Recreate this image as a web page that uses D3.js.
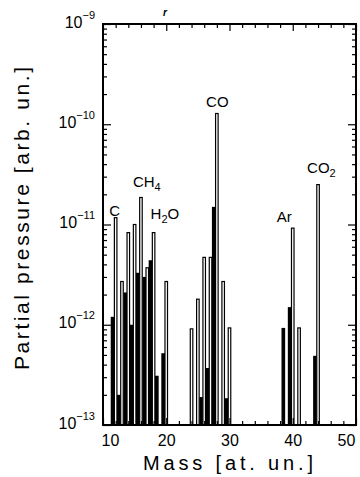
<!DOCTYPE html>
<html>
<head>
<meta charset="utf-8">
<script src="https://cdn.jsdelivr.net/npm/d3@7/dist/d3.min.js"></script>
<style>
  body { margin: 0; background: #fff; }
  svg { display: block; font-family: "Liberation Sans", Arial, sans-serif; }
</style>
</head>
<body>
<svg id="chart" width="360" height="477"></svg>
<script>
// mass numbers of the measured peaks
const masses = [12, 13, 14, 15, 16, 17, 18, 19, 20, 24, 25, 26, 27, 28, 29, 30, 39, 40, 41, 44];
// open bars (outline)
const openPressure = [1.17e-11, 2.7e-12, 8.3e-12, 1.0e-11, 1.86e-11, 3.7e-12, 8.3e-12, null, 2.7e-12,
                      9.1e-13, 1.8e-12, 4.7e-12, 4.7e-12, 1.28e-10, 2.7e-12, 9.3e-13,
                      null, 9.2e-12, 9.3e-13, 2.5e-11];
// filled bars (black)
const filledPressure = [1.2e-12, 2.0e-13, 2.1e-12, 1.0e-12, 3.3e-12, 3.0e-12, 4.4e-12, 3.1e-13, 5.2e-13,
                        null, null, 1.9e-13, 3.7e-13, 1.5e-11, null, 1.85e-13,
                        9.3e-13, 1.5e-12, null, 4.9e-13];

const decades = [1e-13, 1e-12, 1e-11, 1e-10, 1e-9];
const decadeExp = ["\u221213", "\u221212", "\u221211", "\u221210", "\u22129"];
const massTicks = [10, 20, 30, 40, 50];

const peakMass = [12, 16, 18, 28, 40, 44];
const peakName = ["C", "CH", "H", "CO", "Ar", "CO"];
const peakSub = ["", "4", "2", "", "", "2"];
const peakTail = ["", "", "O", "", "", ""];

const margin = { top: 24, right: 4, bottom: 52, left: 103 };
const W = 360, H = 477;
const width = W - margin.left - margin.right;
const height = H - margin.top - margin.bottom;

const svg = d3.select("#chart");

const x = d3.scaleLinear().domain([10, 50]).range([margin.left, margin.left + width]);
const y = d3.scaleLog().domain([1e-13, 1e-9]).range([margin.top + height, margin.top]);
const base = y(1e-13);

const rows = masses.map((m, i) => ({ m: m, open: openPressure[i], filled: filledPressure[i] }));

// filled bars (black), just left of each open bar
svg.append("g").selectAll("rect")
  .data(rows.filter(d => d.filled))
  .enter().append("rect")
  .attr("x", d => x(d.m - 0.78))
  .attr("y", d => y(d.filled))
  .attr("width", d => x(d.m - 0.2) - x(d.m - 0.78))
  .attr("height", d => base - y(d.filled))
  .attr("fill", "#000");

// open bars
svg.append("g").selectAll("rect")
  .data(rows.filter(d => d.open))
  .enter().append("rect")
  .attr("x", d => x(d.m - 0.2))
  .attr("y", d => y(d.open))
  .attr("width", d => x(d.m + 0.2) - x(d.m - 0.2))
  .attr("height", d => base - y(d.open))
  .attr("fill", "#fff")
  .attr("stroke", "#000")
  .attr("stroke-width", 1.2);

// axes, ticks pointing inward
function styleAxis(g) {
  g.select(".domain").remove();
  g.selectAll(".tick line").attr("stroke", "#000").attr("stroke-width", 1.2);
}

const minorX = x.ticks(20).filter(v => v % 10 !== 0);
const minorY = y.ticks().filter(v => decades.every(dv => Math.abs(dv - v) / dv > 1e-6));

svg.append("g").attr("transform", `translate(0,${base})`)
  .call(d3.axisBottom(x).tickValues(minorX).tickSize(-4).tickFormat(""))
  .call(styleAxis);
svg.append("g").attr("transform", `translate(0,${base})`)
  .call(d3.axisBottom(x).tickValues(massTicks).tickSize(-7).tickPadding(10).tickFormat(d3.format("d")))
  .call(styleAxis)
  .call(g => g.selectAll("text").attr("font-size", 16).attr("fill", "#000")
    .attr("font-family", "'Liberation Sans', Arial, sans-serif")
    .attr("dx", d => d === 10 ? 7 : d === 50 ? -10 : 0));

svg.append("g").attr("transform", `translate(0,${margin.top})`)
  .call(d3.axisTop(x).tickValues(minorX).tickSize(-4).tickFormat(""))
  .call(styleAxis);
svg.append("g").attr("transform", `translate(0,${margin.top})`)
  .call(d3.axisTop(x).tickValues(massTicks).tickSize(-7).tickFormat(""))
  .call(styleAxis);

svg.append("g").attr("transform", `translate(${margin.left},0)`)
  .call(d3.axisLeft(y).tickValues(minorY).tickSize(-4).tickFormat(""))
  .call(styleAxis);
const gLeft = svg.append("g").attr("transform", `translate(${margin.left},0)`)
  .call(d3.axisLeft(y).tickValues(decades).tickSize(-8).tickFormat(""))
  .call(styleAxis);

svg.append("g").attr("transform", `translate(${margin.left + width},0)`)
  .call(d3.axisRight(y).tickValues(minorY).tickSize(-4).tickFormat(""))
  .call(styleAxis);
svg.append("g").attr("transform", `translate(${margin.left + width},0)`)
  .call(d3.axisRight(y).tickValues(decades).tickSize(-8).tickFormat(""))
  .call(styleAxis);

// 10^n labels
gLeft.selectAll(".tick text").remove();
gLeft.selectAll(".tick").each(function (d, i) {
  const t = d3.select(this).append("text")
    .attr("x", -8).attr("y", 3)
    .attr("text-anchor", "end")
    .attr("fill", "#000")
    .attr("font-size", 16);
  t.append("tspan").text("10");
  t.append("tspan").attr("dy", -9).attr("font-size", 11).text(decadeExp[i]);
});

// frame
svg.append("rect")
  .attr("x", margin.left).attr("y", margin.top)
  .attr("width", width).attr("height", height)
  .attr("fill", "none").attr("stroke", "#000").attr("stroke-width", 2);

// peak labels
const labelOffset = [[-1, -2, "middle"], [-8, -10, "start"], [-3, -14, "start"],
                     [0.5, -7, "middle"], [-1, -6, "end"], [-11, -12, "start"]];
peakMass.forEach((m, i) => {
  const v = openPressure[masses.indexOf(m)];
  const t = svg.append("text")
    .attr("x", x(m) + labelOffset[i][0])
    .attr("y", y(v) + labelOffset[i][1])
    .attr("text-anchor", labelOffset[i][2])
    .attr("font-size", 15)
    .attr("fill", "#000");
  t.append("tspan").text(peakName[i]);
  if (peakSub[i]) t.append("tspan").attr("dy", 4).attr("font-size", 11).text(peakSub[i]);
  if (peakTail[i]) t.append("tspan").attr("dy", -4).attr("font-size", 15).text(peakTail[i]);
});

// stray mark above the frame
svg.append("text").attr("x", 163).attr("y", 16)
  .attr("font-size", 10).attr("font-weight", "bold").attr("font-style", "italic")
  .text("r");

// axis titles
svg.append("text")
  .attr("x", 143).attr("y", 470)
  .attr("font-size", 20)
  .attr("textLength", 170).attr("lengthAdjust", "spacing")
  .text("Mass [at. un.]");

svg.append("text")
  .attr("transform", "translate(29,370) rotate(-90)")
  .attr("font-size", 21)
  .attr("textLength", 303).attr("lengthAdjust", "spacing")
  .text("Partial pressure [arb. un.]");
</script>
</body>
</html>
